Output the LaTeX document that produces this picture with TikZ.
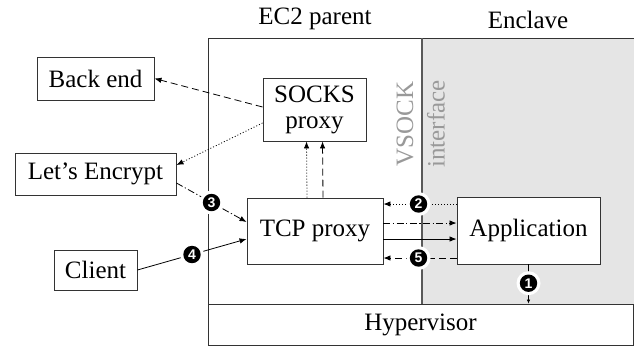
\documentclass[tikz,border=0pt]{standalone}
\usepackage{fontspec}
\setmainfont{Liberation Serif}
\setsansfont{Liberation Sans}
\usetikzlibrary{arrows.meta,calc}
\definecolor{encl}{gray}{0.9}
\definecolor{edge}{gray}{0.2}
\begin{document}
\begin{tikzpicture}[x=1pt,y=-1pt,
  every node/.style={font=\fontsize{25}{28}\selectfont},
  box/.style={draw=edge,line width=0.9pt,fill=white,inner sep=0pt,anchor=center},
  conn/.style={line width=0.8pt,-{Latex[length=7pt,width=5.5pt]}},
  dsh/.style={dash pattern=on 7pt off 4pt},
  dtt/.style={dash pattern=on 1pt off 2pt},
  ddt/.style={dash pattern=on 7pt off 2.5pt on 1.2pt off 2.5pt},
  halo/.style={fill=white},
  disc/.style={fill=black},
  num/.style={inner sep=0pt,text=white,font=\sffamily\bfseries\fontsize{14}{14}\selectfont}]
\useasboundingbox (0,0) rectangle (634,349);
% regions
\fill[encl] (422,38) rectangle (634,304);
\draw[edge,line width=0.9pt] (634,38) -- (208,38) -- (208,304);
\draw[black!65,line width=2pt] (422,38) -- (422,304);
\node[anchor=base] (ec2) at (315,24) {EC2 parent};
\node[anchor=base] (encll) at (528,28) {Enclave};
\node[rotate=90,text=black!40] (vsock) at (405,124) {VSOCK};
\node[rotate=90,text=black!40] (intf) at (436,124) {interface};
% boxes
\node[box,minimum width=425pt,minimum height=41pt] (hyper) at (420.5,324.5) {Hypervisor};
\node[box,minimum width=117pt,minimum height=43pt] (backend) at (95.5,78.5) {Back end};
\node[box,minimum width=161pt,minimum height=42pt] (lets) at (95.5,174) {Let’s Encrypt};
\node[box,minimum width=83pt,minimum height=40pt] (client) at (95.5,270) {Client};
\node[box,minimum width=103pt,minimum height=63pt,align=center] (socks) at (314.5,109.5) {SOCKS\\[-2pt]proxy};
\node[box,minimum width=136pt,minimum height=66pt] (tcp) at (315,231) {TCP proxy};
\node[box,minimum width=143pt,minimum height=67pt] (app) at (528.5,230.5) {Application};
% connectors
\draw[conn,dsh] ([yshift=2.5pt]socks.west) -- (backend.east);
\draw[conn,dtt] ([yshift=-13.5pt]socks.west) -- ([yshift=9pt]lets.east);
\draw[conn,ddt] ([yshift=-9pt]lets.east) -- coordinate[pos=0.5] (c3) ([yshift=9pt]tcp.west);
\draw[conn] (client.east) -- coordinate[pos=0.5] (c4) ([yshift=-8pt]tcp.west);
\draw[conn,dtt] ([xshift=-8pt]tcp.north) -- ([xshift=-8pt]socks.south);
\draw[conn,dsh] ([xshift=8pt]tcp.north) -- ([xshift=8pt]socks.south);
\coordinate (a2) at ([yshift=26.5pt]app.west);
\draw[conn,dtt] (a2) -- coordinate[pos=0.52] (c2) (a2 -| tcp.east);
\coordinate (t3) at ([yshift=8pt]tcp.east);
\draw[conn,ddt] (t3) -- (t3 -| app.west);
\coordinate (t4) at ([yshift=-8pt]tcp.east);
\draw[conn] (t4) -- (t4 -| app.west);
\coordinate (a5) at ([yshift=-27.5pt]app.west);
\draw[conn,dsh] (a5) -- coordinate[pos=0.52] (c5) (a5 -| tcp.east);
\draw[line width=0.6pt,-{Latex[length=4pt,width=3.5pt]}] (app.south) -- coordinate[pos=0.48] (c1) (app.south |- hyper.north);
% numbered markers
\foreach \c/\t in {c1/1,c2/2,c3/3,c4/4,c5/5}{
  \fill[halo] (\c) circle[radius=12pt];
  \fill[disc] (\c) circle[radius=8.7pt];
  \node[num] (n\t) at (\c) {\t};
}
\end{tikzpicture}
\end{document}
